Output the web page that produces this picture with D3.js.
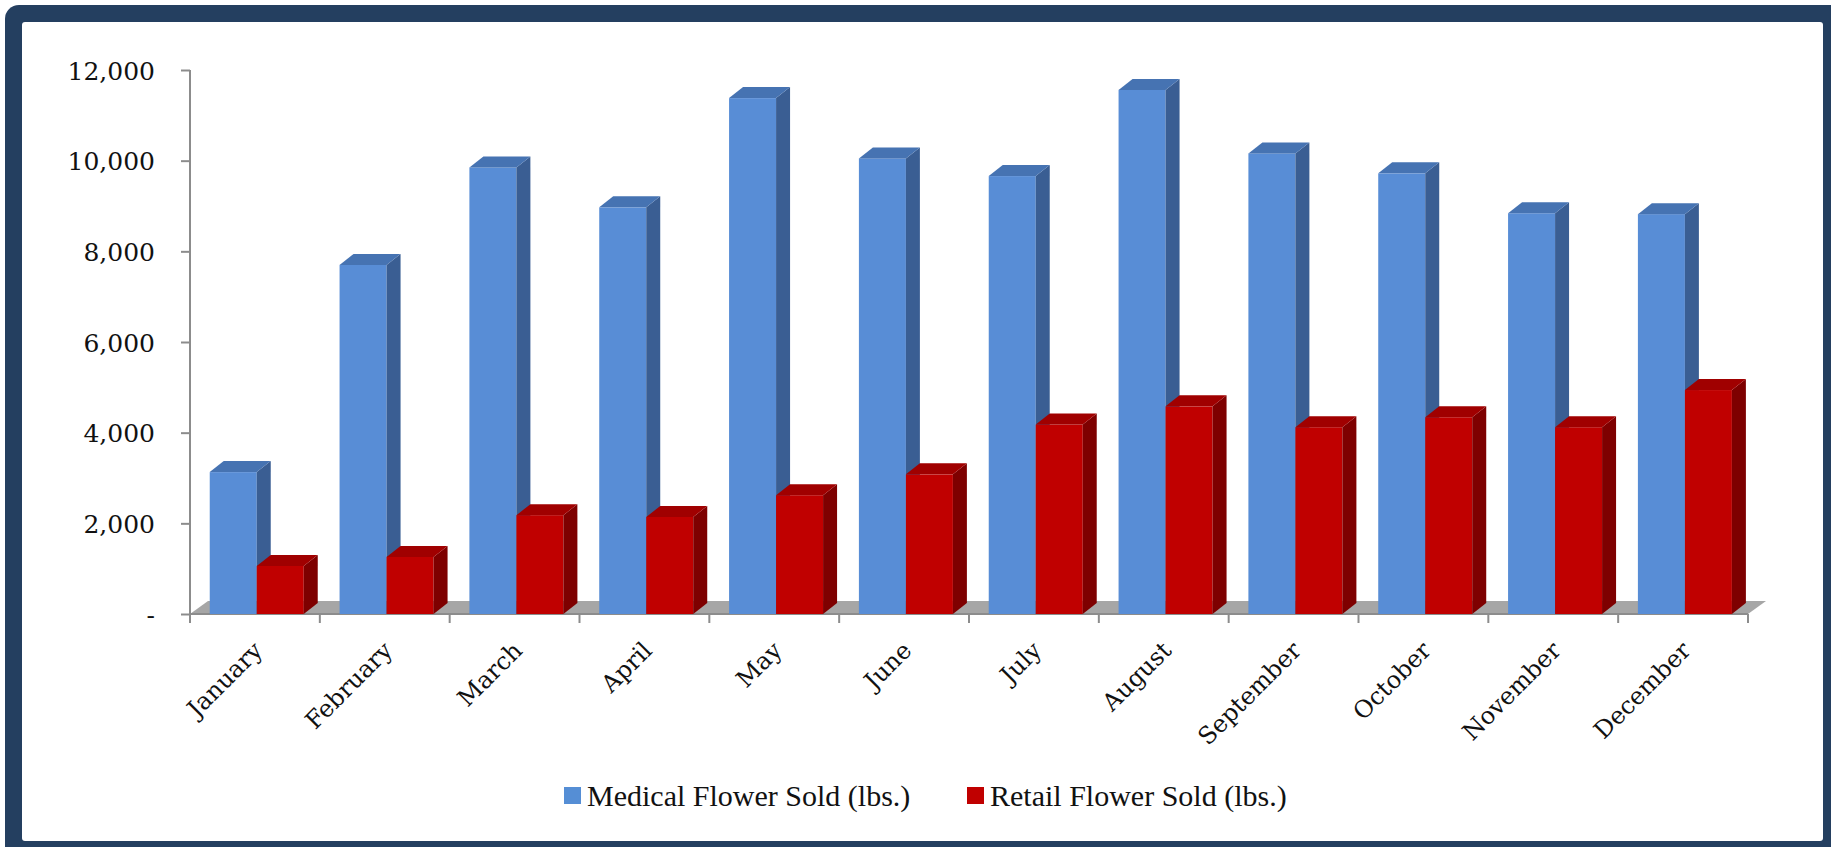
<!DOCTYPE html>
<html>
<head>
<meta charset="utf-8">
<script src="https://cdn.jsdelivr.net/npm/d3@7/dist/d3.min.js"></script>
<style>
  html, body { margin: 0; padding: 0; background: #ffffff; }
  svg { display: block; }
</style>
</head>
<body>
<svg id="chart" width="1831" height="847"></svg>
<script>
const months = ["January","February","March","April","May","June","July","August","September","October","November","December"];
const medical = [3130, 7700, 9850, 8970, 11380, 10050, 9660, 11560, 10160, 9720, 8840, 8820];
const retail  = [1060, 1260, 2180, 2140, 2620, 3080, 4180, 4580, 4120, 4340, 4120, 4940];
const yTicks = [0, 2000, 4000, 6000, 8000, 10000, 12000];
const seriesNames = ["Medical Flower Sold (lbs.)", "Retail Flower Sold (lbs.)"];

const svg = d3.select("#chart");

// frame
svg.append("rect").attr("x", 5).attr("y", 5).attr("width", 1860).attr("height", 880)
  .attr("rx", 14).attr("fill", "#243F60");
svg.append("rect").attr("x", 22).attr("y", 22).attr("width", 1801).attr("height", 819)
  .attr("rx", 3).attr("fill", "#ffffff");

const x0 = 190, x1 = 1748;
const x = d3.scaleBand().domain(months).range([x0, x1]).paddingInner(0).paddingOuter(0);
const y = d3.scaleLinear().domain([0, 12000]).range([614, 70]);

const bw = x.bandwidth();
const barW = bw * 0.362;
const barOff = bw * 0.152;
const ddx = 14, ddy = -11;   // bar depth
const fdx = 18, fdy = -13;   // floor depth

// floor
const base = y(0);
svg.append("polygon")
  .attr("points", [[x0, base], [x0 + fdx, base + fdy], [x1 + fdx, base + fdy], [x1, base]].map(p => p.join(",")).join(" "))
  .attr("fill", "#A6A6A6");

// axes
const yAxis = d3.axisLeft(y).tickValues(yTicks).tickSize(9).tickPadding(26)
  .tickFormat(d => d === 0 ? "-" : d3.format(",")(d));
const gy = svg.append("g").attr("transform", `translate(${x0},0)`).call(yAxis);
gy.select(".domain").attr("stroke", "#8C8C8C").attr("stroke-width", 2)
  .attr("d", `M0,${y(12000)}V${base}`);
gy.selectAll(".tick line").attr("stroke", "#8C8C8C").attr("stroke-width", 2);
gy.selectAll(".tick text").attr("font-family", "DejaVu Serif").attr("font-size", 25)
  .attr("fill", "#111").attr("dy", "0.36em");

// x axis line and ticks
const gx = svg.append("g");
gx.append("line").attr("x1", x0).attr("x2", x1).attr("y1", base).attr("y2", base)
  .attr("stroke", "#8C8C8C").attr("stroke-width", 2);
const boundaries = months.map(m => x(m)).concat([x1]);
gx.selectAll("line.tk").data(boundaries).enter().append("line").attr("class", "tk")
  .attr("x1", d => d).attr("x2", d => d).attr("y1", base).attr("y2", base + 9)
  .attr("stroke", "#8C8C8C").attr("stroke-width", 2);

// bars
function box(g, bx, w, v, cols) {
  const yt = y(v);
  g.append("rect").attr("x", bx).attr("y", yt).attr("width", w).attr("height", base - yt).attr("fill", cols[0]);
  g.append("polygon").attr("points",
    [[bx + w, yt], [bx + w + ddx, yt + ddy], [bx + w + ddx, base + ddy], [bx + w, base]].map(p => p.join(",")).join(" "))
    .attr("fill", cols[1]);
  g.append("polygon").attr("points",
    [[bx, yt], [bx + ddx, yt + ddy], [bx + w + ddx, yt + ddy], [bx + w, yt]].map(p => p.join(",")).join(" "))
    .attr("fill", cols[2]);
}
const blueCols = ["#588DD6", "#3A5E93", "#4673B2"];
const redCols = ["#C00000", "#7E0000", "#A00000"];
const gb = svg.append("g");
months.forEach((m, i) => {
  const bx = x(m) + barOff;
  box(gb, bx, barW, medical[i], blueCols);
  box(gb, bx + barW, barW, retail[i], redCols);
});

// x labels
svg.append("g").selectAll("text").data(months).enter().append("text")
  .attr("transform", d => `translate(${x(d) + bw / 2 + 9},${base + 38}) rotate(-45)`)
  .attr("text-anchor", "end")
  .attr("font-family", "DejaVu Serif").attr("font-size", 24).attr("fill", "#111")
  .text(d => d);

// legend
const legend = [
  { name: seriesNames[0], color: "#558ED5", sx: 564, tx: 587 },
  { name: seriesNames[1], color: "#C00000", sx: 967, tx: 990 }
];
const gl = svg.append("g");
legend.forEach(l => {
  gl.append("rect").attr("x", l.sx).attr("y", 787).attr("width", 17).attr("height", 17).attr("fill", l.color);
  gl.append("text").attr("x", l.tx).attr("y", 806).attr("font-family", "Liberation Serif")
    .attr("font-size", 30).attr("fill", "#111").text(l.name);
});
</script>
</body>
</html>
